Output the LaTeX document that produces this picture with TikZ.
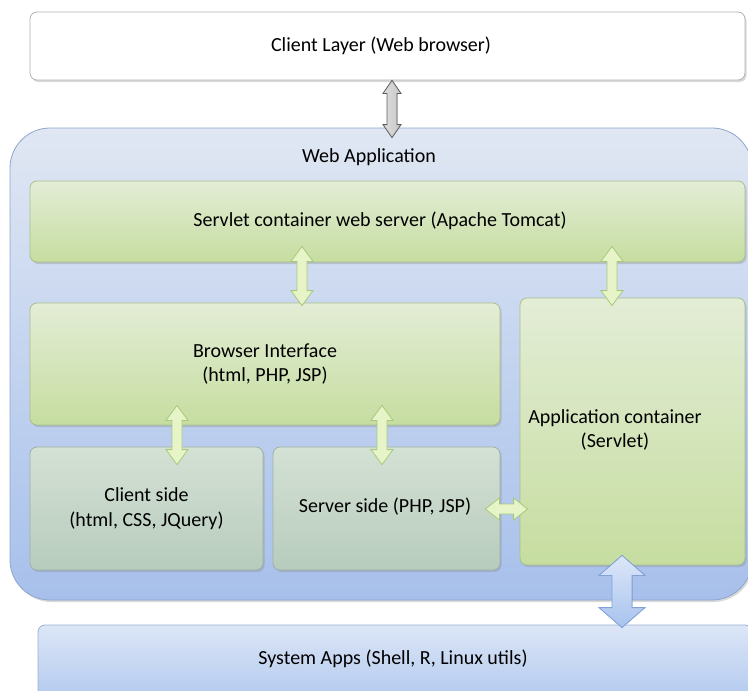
\documentclass[tikz,border=0pt]{standalone}
\usepackage{fontspec}
\setmainfont{Carlito}
\usetikzlibrary{shadows,calc}
\definecolor{webtop}{HTML}{E0E7F3}
\definecolor{webbot}{HTML}{A7C0EB}
\definecolor{webline}{HTML}{8FA6CC}
\definecolor{grtop}{HTML}{E3EDD6}
\definecolor{grbot}{HTML}{C6DDA0}
\definecolor{grline}{HTML}{A9BF8C}
\definecolor{ggtop}{HTML}{D4E1D5}
\definecolor{ggbot}{HTML}{B7CCBD}
\definecolor{ggline}{HTML}{9DB2A4}
\definecolor{sytop}{HTML}{DCE6F6}
\definecolor{sybot}{HTML}{B2C9EF}
\definecolor{syline}{HTML}{9AB0D3}
\definecolor{arrgreen}{HTML}{E6F4C8}
\definecolor{arrgreenl}{HTML}{A8C97C}
\definecolor{arrbluet}{HTML}{DCE7F8}
\definecolor{arrblueb}{HTML}{A8C3EE}
\definecolor{arrbluel}{HTML}{7FA2D8}
\tikzset{
  boxbase/.style={rectangle, rounded corners=7pt, line width=0.8pt, align=center,
    drop shadow={shadow xshift=1.5pt, shadow yshift=-2pt, opacity=0.3}},
  whitebox/.style={boxbase, fill=white, draw=gray!60},
  greenbox/.style={boxbase, top color=grtop, bottom color=grbot, draw=grline},
  ggbox/.style={boxbase, top color=ggtop, bottom color=ggbot, draw=ggline},
  webbox/.style={boxbase, rounded corners=40pt, top color=webtop, bottom color=webbot, draw=webline},
  sysbox/.style={boxbase, top color=sytop, bottom color=sybot, draw=syline},
  plain/.style={align=center, inner sep=0pt},
  grayarr/.style={left color=gray!25, right color=gray!45, draw=gray!75!black, line width=0.8pt},
  greenarr/.style={fill=arrgreen, draw=arrgreenl, line width=0.8pt},
  bluearr/.style={top color=arrbluet, bottom color=arrblueb, draw=arrbluel, line width=0.8pt},
}
% vertical double block arrow: style, top point, bottom point, shaft half, head half, head length
\newcommand\vblock[6]{%
  \filldraw[#1] let \p1=#2, \p2=#3 in
   (\x1-#4pt,\y1-#6pt) -- (\x1-#5pt,\y1-#6pt) -- (\x1,\y1) -- (\x1+#5pt,\y1-#6pt) --
   (\x1+#4pt,\y1-#6pt) -- (\x1+#4pt,\y2+#6pt) -- (\x1+#5pt,\y2+#6pt) -- (\x1,\y2) --
   (\x1-#5pt,\y2+#6pt) -- (\x1-#4pt,\y2+#6pt) -- cycle;}
% horizontal double block arrow: style, left point, right point, shaft half, head half, head length
\newcommand\hblock[6]{%
  \filldraw[#1] let \p1=#2, \p2=#3 in
   (\x1+#6pt,\y1+#4pt) -- (\x1+#6pt,\y1+#5pt) -- (\x1,\y1) -- (\x1+#6pt,\y1-#5pt) --
   (\x1+#6pt,\y1-#4pt) -- (\x2-#6pt,\y1-#4pt) -- (\x2-#6pt,\y1-#5pt) -- (\x2,\y1) --
   (\x2-#6pt,\y1+#5pt) -- (\x2-#6pt,\y1+#4pt) -- cycle;}
\begin{document}
\begin{tikzpicture}[x=1pt,y=-1pt,font=\fontsize{20}{24.5}\selectfont]
\useasboundingbox (0,0) rectangle (748,691);
\clip (0,0) rectangle (748,691);

\node[whitebox, minimum width=715pt, minimum height=68pt] (cl) at (387.5,46) {};
\node[plain] (cltext) at (381,46) {Client Layer (Web browser)};

\node[webbox, minimum width=742pt, minimum height=472pt] (web) at (381,364) {};
\node[plain] (webtext) at (369,157) {Web Application};

\node[greenbox, minimum width=715pt, minimum height=81pt] (srv) at (387.5,221.5) {};
\node[plain] (srvtext) at (380,221) {Servlet container web server (Apache Tomcat)};

\node[greenbox, minimum width=470pt, minimum height=122pt] (bi) at (265,364) {Browser Interface\\(html, PHP, JSP)};

\node[greenbox, minimum width=225pt, minimum height=267pt] (ac) at (632.5,431.5) {};
\node[plain] (actext) at (615,430) {Application container\\(Servlet)};

\node[ggbox, minimum width=233pt, minimum height=123pt] (cs) at (146.5,508.5) {Client side\\(html, CSS, JQuery)};
\node[ggbox, minimum width=227pt, minimum height=123pt] (ss) at (386.5,508.5) {};
\node[plain] (sstext) at (385,507) {Server side (PHP, JSP)};

\node[sysbox, minimum width=714pt, minimum height=75pt] (sys) at (395,662.5) {};
\node[plain] (systext) at (393,659) {System Apps (Shell, R, Linux utils)};

\coordinate (gx) at (392,0);
\coordinate (g1x) at (302,0);
\coordinate (g2x) at (612,0);
\coordinate (g3x) at (177,0);
\coordinate (g4x) at (382,0);
\coordinate (bx) at (622,0);
\coordinate (hy) at (0,509);

\vblock{grayarr}{(cl.south -| gx)}{($(web.north -| gx)+(0,10)$)}{5}{9}{13}
\vblock{greenarr}{($(srv.south -| g1x)+(0,-16)$)}{($(bi.north -| g1x)+(0,3)$)}{5}{11}{15}
\vblock{greenarr}{($(srv.south -| g2x)+(0,-16)$)}{($(ac.north -| g2x)+(0,8)$)}{5}{11}{15}
\vblock{greenarr}{($(bi.south -| g3x)+(0,-20)$)}{($(cs.north -| g3x)+(0,18)$)}{5}{11}{15}
\vblock{greenarr}{($(bi.south -| g4x)+(0,-20)$)}{($(ss.north -| g4x)+(0,18)$)}{5}{11}{15}
\hblock{greenarr}{($(ss.east |- hy)+(-15,0)$)}{($(ac.west |- hy)+(8,0)$)}{5}{11}{14}
\vblock{bluearr}{($(ac.south -| bx)+(0,-10)$)}{($(sys.north -| bx)+(0,3)$)}{10}{23}{20}
\end{tikzpicture}
\end{document}
